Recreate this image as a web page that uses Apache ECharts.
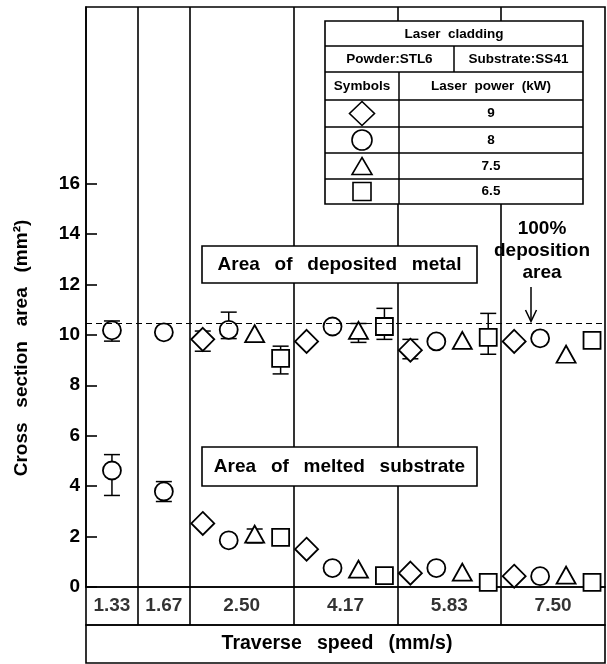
<!DOCTYPE html>
<html>
<head>
<meta charset="utf-8">
<script src="https://cdn.jsdelivr.net/npm/echarts@6/dist/echarts.min.js"></script>
<style>html,body{margin:0;padding:0;background:#fff}#c{width:607px;height:664px}</style>
</head>
<body>
<div id="c"></div>
<script>
// ---- data ----
const speeds = ['1.33', '1.67', '2.50', '4.17', '5.83', '7.50'];
const colWidths = [1, 1, 2, 2, 2, 2];
const powers = ['9', '8', '7.5', '6.5'];
const yTicks = [0, 2, 4, 6, 8, 10, 12, 14, 16];
const depositionLine = 10.45;

// area of deposited metal (mm^2), per speed column
const dep9  = [null, null, 9.82, 9.74, 9.39, 9.74];
const dep8  = [10.18, 10.10, 10.20, 10.33, 9.74, 9.86];
const dep75 = [null, null, 10.05, 10.18, 9.78, 9.23];
const dep65 = [null, null, 9.07, 10.33, 9.90, 9.78];
// area of melted substrate (mm^2)
const mel9  = [null, null, 2.52, 1.50, 0.55, 0.43];
const mel8  = [4.62, 3.79, 1.85, 0.75, 0.75, 0.43];
const mel75 = [null, null, 2.10, 0.71, 0.59, 0.47];
const mel65 = [null, null, 1.97, 0.45, 0.18, 0.18];
// error bars [low, high]
const dep9Err  = [null, null, [9.35, 10.15], null, [9.05, 9.82], null];
const dep8Err  = [[9.75, 10.55], null, [9.85, 10.90], null, null, null];
const dep75Err = [null, null, null, [9.70, 10.45], null, null];
const dep65Err = [null, null, [8.45, 9.55], [9.82, 11.05], [9.23, 10.85], null];
const mel8Err  = [[3.63, 5.25], [3.39, 4.18], null, null, null, null];
const mel75Err = [null, null, [1.75, 2.30], null, null, null];

// ---- layout helpers ----
const starts = [];
colWidths.reduce((s, w) => { starts.push(s); return s + w; }, 0);
const xMax = colWidths.reduce((a, b) => a + b, 0);
const centers = starts.map((s, i) => s + colWidths[i] / 2);
function xPos(col, k) {
  return colWidths[col] === 1 ? centers[col] : starts[col] + (k + 0.5) * colWidths[col] / 4;
}
const FONT = '"Liberation Sans", Arial, sans-serif';
const SP = '\u2002 ';

const symbols = [
  { symbol: 'diamond', size: [23, 23] },
  { symbol: 'circle', size: 18 },
  { symbol: 'triangle', size: [19, 17] },
  { symbol: 'rect', size: 17 }
];
const depSets = [dep9, dep8, dep75, dep65];
const melSets = [mel9, mel8, mel75, mel65];
const errSets = [
  [dep9Err, null], [dep8Err, mel8Err], [dep75Err, mel75Err], [dep65Err, null]
];

const series = [];
// column divider lines + deposition line
series.push({
  type: 'line', xAxisIndex: 0, yAxisIndex: 0, data: [], silent: true,
  markLine: {
    silent: true, symbol: 'none', animation: false, label: { show: false },
    data: starts.slice(1).map(s => ({ xAxis: s, lineStyle: { color: '#000', width: 1.6, type: 'solid' } }))
      .concat([{ yAxis: depositionLine, lineStyle: { color: '#000', width: 1.2, type: [6, 4] } }])
  }
});
series.push({
  type: 'line', xAxisIndex: 1, yAxisIndex: 1, data: [], silent: true,
  markLine: {
    silent: true, symbol: 'none', animation: false, label: { show: false },
    data: starts.slice(1).map(s => ({ xAxis: s, lineStyle: { color: '#000', width: 1.6, type: 'solid' } }))
  }
});
// category labels
series.push({
  type: 'scatter', xAxisIndex: 1, yAxisIndex: 1, symbolSize: 0, silent: true,
  data: speeds.map((s, i) => ({ value: [centers[i], 0.5], name: s })),
  label: { show: true, position: 'inside', formatter: p => p.name, color: '#000',
           fontFamily: FONT, fontWeight: 'bold', fontSize: 19 }
});
// error bars
const errData = [];
errSets.forEach((pair, k) => {
  pair.forEach(arr => {
    if (!arr) return;
    arr.forEach((e, col) => { if (e) errData.push([xPos(col, k), e[0], e[1]]); });
  });
});
series.push({
  type: 'custom', xAxisIndex: 0, yAxisIndex: 0, z: 1, silent: true, data: errData,
  renderItem: function (params, api) {
    const x = api.value(0), lo = api.coord([x, api.value(1)]), hi = api.coord([x, api.value(2)]);
    const cw = 8, st = { stroke: '#000', lineWidth: 1.5 };
    return { type: 'group', children: [
      { type: 'line', shape: { x1: lo[0], y1: lo[1], x2: hi[0], y2: hi[1] }, style: st },
      { type: 'line', shape: { x1: lo[0] - cw, y1: lo[1], x2: lo[0] + cw, y2: lo[1] }, style: st },
      { type: 'line', shape: { x1: hi[0] - cw, y1: hi[1], x2: hi[0] + cw, y2: hi[1] }, style: st }
    ]};
  }
});
// data points
powers.forEach((p, k) => {
  const data = [];
  [depSets[k], melSets[k]].forEach(arr => {
    arr.forEach((v, col) => { if (v !== null) data.push([xPos(col, k), v]); });
  });
  series.push({
    type: 'scatter', name: p + ' kW', xAxisIndex: 0, yAxisIndex: 0, z: 3,
    symbol: symbols[k].symbol, symbolSize: symbols[k].size, data: data, clip: false,
    itemStyle: { color: '#fff', borderColor: '#000', borderWidth: 1.8, opacity: 1 }
  });
});

const hiddenX = (gi) => ({
  type: 'value', gridIndex: gi, min: 0, max: xMax,
  axisLine: { show: false }, axisTick: { show: false }, axisLabel: { show: false }, splitLine: { show: false }
});
const hiddenY = (gi) => ({
  type: 'value', gridIndex: gi, min: 0, max: 1,
  axisLine: { show: false }, axisTick: { show: false }, axisLabel: { show: false }, splitLine: { show: false }
});
const gridBase = { left: 86, width: 519, show: true, borderColor: '#000', borderWidth: 1.6, backgroundColor: 'transparent' };

// graphic annotations
const tStyle = (txt, x, y, size) => ({
  type: 'text', x: x, y: y, z: 101,
  style: { text: txt, fill: '#000', font: 'bold ' + size + 'px ' + FONT, align: 'center', verticalAlign: 'middle' }
});
const lineG = (x1, y1, x2, y2) => ({ type: 'line', z: 101, shape: { x1, y1, x2, y2 }, style: { stroke: '#000', lineWidth: 1.5 } });
const rowY = [113.5, 140, 166, 191.5];
const graphic = [
  // annotation boxes
  { type: 'rect', z: 100, shape: { x: 202, y: 246, width: 275, height: 37 }, style: { fill: '#fff', stroke: '#000', lineWidth: 1.6 } },
  tStyle(['Area', 'of', 'deposited', 'metal'].join(SP), 339.5, 265, 19),
  { type: 'rect', z: 100, shape: { x: 202, y: 447, width: 275, height: 39 }, style: { fill: '#fff', stroke: '#000', lineWidth: 1.6 } },
  tStyle(['Area', 'of', 'melted', 'substrate'].join(SP), 339.5, 467, 19),
  // legend table
  { type: 'rect', z: 100, shape: { x: 325, y: 21, width: 258, height: 183 }, style: { fill: '#fff', stroke: '#000', lineWidth: 1.6 } },
  lineG(325, 46, 583, 46), lineG(325, 72, 583, 72), lineG(325, 100, 583, 100),
  lineG(325, 127, 583, 127), lineG(325, 153, 583, 153), lineG(325, 179, 583, 179),
  lineG(454, 46, 454, 72), lineG(399, 72, 399, 204),
  tStyle('Laser  cladding', 454, 34, 13.5),
  tStyle('Powder:STL6', 389.5, 59.5, 13.5),
  tStyle('Substrate:SS41', 518.5, 59.5, 13.5),
  tStyle('Symbols', 362, 86.5, 13.5),
  tStyle('Laser  power  (kW)', 491, 86.5, 13.5),
  { type: 'polygon', z: 101, shape: { points: [[362, 101.5], [374.5, 113.5], [362, 125.5], [349.5, 113.5]] }, style: { fill: '#fff', stroke: '#000', lineWidth: 1.6 } },
  { type: 'circle', z: 101, shape: { cx: 362, cy: 140, r: 10 }, style: { fill: '#fff', stroke: '#000', lineWidth: 1.6 } },
  { type: 'polygon', z: 101, shape: { points: [[362, 157.5], [372, 174.5], [352, 174.5]] }, style: { fill: '#fff', stroke: '#000', lineWidth: 1.6 } },
  { type: 'rect', z: 101, shape: { x: 353, y: 182.5, width: 18, height: 18 }, style: { fill: '#fff', stroke: '#000', lineWidth: 1.6 } }
].concat(powers.map((p, i) => tStyle(p, 491, rowY[i], 13.5))).concat([
  // 100% deposition area
  { type: 'text', x: 542, y: 251, z: 101,
    style: { text: '100%\ndeposition\narea', fill: '#000', font: 'bold 19px ' + FONT, align: 'center', verticalAlign: 'middle', lineHeight: 22 } },
  lineG(531, 287, 531, 321),
  { type: 'polyline', z: 101, shape: { points: [[525.5, 310], [531, 321.5], [536.5, 310]] }, style: { stroke: '#000', lineWidth: 1.5, fill: null } },
  // axis titles
  { type: 'text', x: 22, y: 348, z: 101, rotation: Math.PI / 2,
    style: { text: ['Cross', 'section', 'area', '(mm²)'].join(SP), fill: '#000', font: 'bold 19px ' + FONT, align: 'center', verticalAlign: 'middle' } },
  tStyle(['Traverse', 'speed', '(mm/s)'].join(SP), 337, 644, 19.5)
]);

const chart = echarts.init(document.getElementById('c'), null, { renderer: 'canvas' });
chart.setOption({
  animation: false,
  backgroundColor: '#fff',
  grid: [
    Object.assign({ top: 7, height: 580 }, gridBase),
    Object.assign({ top: 587, height: 38 }, gridBase),
    Object.assign({ top: 625, height: 38 }, gridBase)
  ],
  xAxis: [hiddenX(0), hiddenX(1), hiddenX(2)],
  yAxis: [
    {
      type: 'value', gridIndex: 0, min: 0, max: 23, interval: 2,
      axisLine: { show: true, lineStyle: { color: '#000', width: 1.6 } },
      axisTick: { show: true, inside: true, length: 11, customValues: yTicks, lineStyle: { color: '#000', width: 1.6 } },
      axisLabel: { show: true, customValues: yTicks, margin: 6, color: '#000', fontFamily: FONT, fontWeight: 'bold', fontSize: 19,
                   formatter: v => (yTicks.indexOf(v) >= 0 ? String(v) : '') },
      splitLine: { show: false }
    },
    hiddenY(1), hiddenY(2)
  ],
  graphic: graphic,
  series: series
});
</script>
</body>
</html>
